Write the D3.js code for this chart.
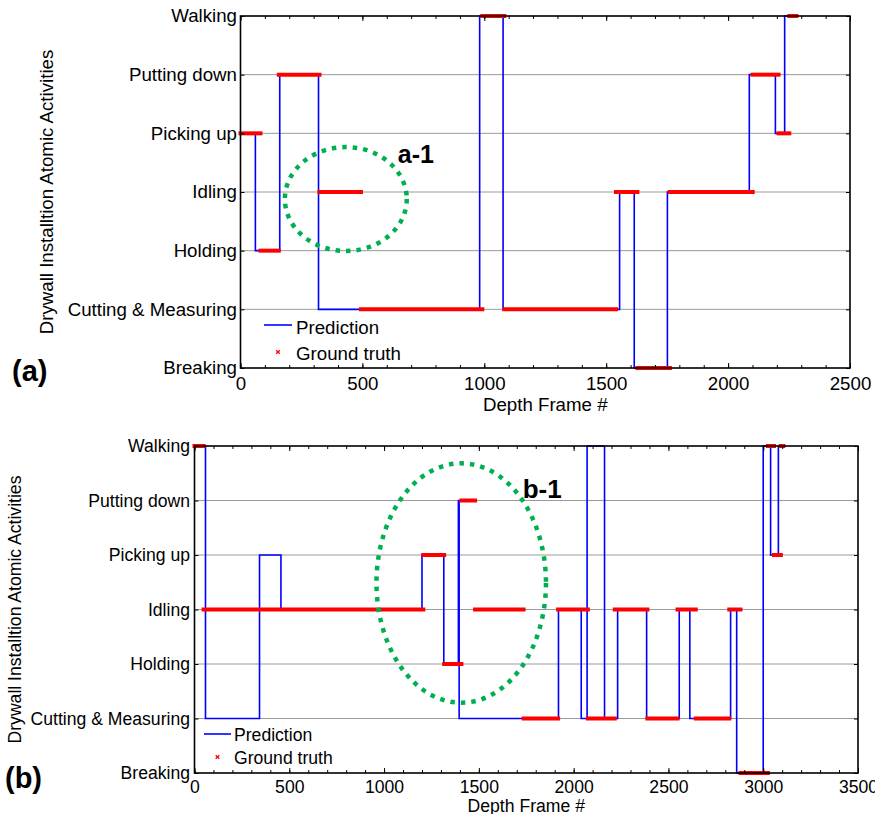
<!DOCTYPE html>
<html>
<head>
<meta charset="utf-8">
<script src="https://cdn.jsdelivr.net/npm/d3@7"></script>
<style>
  body { margin: 0; background: #fff; }
  svg text { font-family: "Liberation Sans", Arial, sans-serif; fill: #000; }
</style>
</head>
<body>
<svg id="chart" width="875" height="814"></svg>
<script>
// activity levels, bottom to top
var activities = ["Breaking", "Cutting & Measuring", "Holding", "Idling", "Picking up", "Putting down", "Walking"];

// (a) prediction: change frames (last one is the end) and the activity after each change
var predFramesA = [0, 61, 161, 320, 981, 1077, 1555, 1615, 1751, 2087, 2194, 2232, 2281];
var predActsA = ["Picking up", "Holding", "Putting down", "Cutting & Measuring", "Walking", "Cutting & Measuring",
                 "Idling", "Breaking", "Idling", "Putting down", "Picking up", "Walking"];
// (a) ground truth
var truthFramesA = [0, 82, 157, 324, 494, 992, 1082, 1540, 1628, 1761, 2101, 2207, 2251, 2280];
var truthActsA = ["Picking up", "Holding", "Putting down", "Idling", "Cutting & Measuring", "Walking",
                  "Cutting & Measuring", "Idling", "Breaking", "Idling", "Putting down", "Picking up", "Walking"];
var xTicksA = [0, 500, 1000, 1500, 2000, 2500];

// (b) prediction
var predFramesB = [0, 58, 343, 456, 1200, 1315, 1392, 1396, 1920, 2040, 2071, 2163, 2232, 2385, 2557, 2613,
                   2828, 2860, 3000, 3039, 3080, 3100];
var predActsB = ["Walking", "Cutting & Measuring", "Picking up", "Idling", "Picking up", "Holding", "Putting down",
                 "Cutting & Measuring", "Idling", "Cutting & Measuring", "Walking", "Cutting & Measuring", "Idling",
                 "Cutting & Measuring", "Idling", "Cutting & Measuring", "Idling", "Breaking", "Walking",
                 "Picking up", "Walking"];
// (b) ground truth
var truthFramesB = [0, 48, 1207, 1317, 1408, 1480, 1736, 1918, 2075, 2217, 2389, 2548, 2644, 2821, 2880, 3025,
                    3057, 3093, 3106];
var truthActsB = ["Walking", "Idling", "Picking up", "Holding", "Putting down", "Idling", "Cutting & Measuring",
                  "Idling", "Cutting & Measuring", "Idling", "Cutting & Measuring", "Idling", "Cutting & Measuring",
                  "Idling", "Breaking", "Walking", "Picking up", "Walking"];
var xTicksB = [0, 500, 1000, 1500, 2000, 2500, 3000, 3500];

// highlighted regions: [centre frame, centre level, radius frames, radius levels]
var regionA = [432, 2.88, 250, 0.886];
var regionB = [1407, 3.486, 447, 2.196];
var regionLabelA = { text: "a-1", frame: 645, level: 3.49 };
var regionLabelB = { text: "b-1", frame: 1731, level: 5.05 };

var svg = d3.select("#chart");

function drawPanel(p) {
    var g = svg.append("g");
    var xMax = p.xTicks[p.xTicks.length - 1];
    var x = d3.scaleLinear().domain([0, xMax]).range([p.left, p.right]);
    var y = d3.scaleLinear().domain([0, activities.length - 1]).range([p.bottom, p.top]);
    var lvl = function(a) { return activities.indexOf(a); };

    // grid lines
    g.selectAll(".grid").data(d3.range(1, activities.length - 1)).enter().append("line")
	.attr("x1", p.left).attr("x2", p.right)
	.attr("y1", function(d) { return y(d); }).attr("y2", function(d) { return y(d); })
	.attr("stroke", "#9a9a9a").attr("stroke-width", 1);

    // prediction step line
    var pts = p.predActs.map(function(a, i) { return [p.predFrames[i], lvl(a)]; });
    pts.push([p.predFrames[p.predFrames.length - 1], lvl(p.predActs[p.predActs.length - 1])]);
    var line = d3.line().x(function(d) { return x(d[0]); }).y(function(d) { return y(d[1]); }).curve(d3.curveStepAfter);
    g.append("path").attr("d", line(pts)).attr("fill", "none").attr("stroke", "#0000ff").attr("stroke-width", 1.6);

    // ground truth segments
    g.selectAll(".truth").data(p.truthActs).enter().append("line")
	.attr("x1", function(d, i) { return x(p.truthFrames[i]); })
	.attr("x2", function(d, i) { return x(p.truthFrames[i + 1]); })
	.attr("y1", function(d) { return y(lvl(d)); })
	.attr("y2", function(d) { return y(lvl(d)); })
	.attr("stroke", "#ff0000").attr("stroke-width", 4).attr("stroke-linecap", "square");

    // axes
    var fs = p.fontSize;
    var minor = d3.range(0, xMax + 1, 100);
    g.append("g").attr("transform", "translate(0," + p.bottom + ")")
	.call(d3.axisBottom(x).tickValues(minor).tickSizeInner(-3).tickSizeOuter(0).tickFormat(""));
    var xa = g.append("g").attr("transform", "translate(0," + p.bottom + ")")
	.call(d3.axisBottom(x).tickValues(p.xTicks).tickSizeInner(-5).tickSizeOuter(0).tickPadding(p.xPad).tickFormat(d3.format("d")));
    g.append("g").attr("transform", "translate(0," + p.top + ")")
	.call(d3.axisTop(x).tickValues(minor).tickSizeInner(-3).tickSizeOuter(0).tickFormat(""));
    g.append("g").attr("transform", "translate(0," + p.top + ")")
	.call(d3.axisTop(x).tickValues(p.xTicks).tickSizeInner(-5).tickSizeOuter(0).tickFormat(""));
    var ya = g.append("g").attr("transform", "translate(" + p.left + ",0)")
	.call(d3.axisLeft(y).tickValues(d3.range(activities.length)).tickSizeInner(-4).tickSizeOuter(0)
	      .tickPadding(p.yPad).tickFormat(function(i) { return activities[i]; }));
    g.append("g").attr("transform", "translate(" + p.right + ",0)")
	.call(d3.axisRight(y).tickValues(d3.range(activities.length)).tickSizeInner(-4).tickSizeOuter(0).tickFormat(""));
    g.selectAll(".domain").remove();
    g.selectAll(".tick line").attr("stroke", "#000").attr("stroke-width", 1);
    xa.selectAll("text").attr("font-size", fs).attr("fill", "#000").attr("font-family", null);
    ya.selectAll("text").attr("font-size", fs).attr("fill", "#000").attr("font-family", null);

    // axes box
    g.append("rect").attr("x", p.left).attr("y", p.top)
	.attr("width", p.right - p.left).attr("height", p.bottom - p.top)
	.attr("fill", "none").attr("stroke", "#000").attr("stroke-width", 1.6);

    // titles
    g.append("text").attr("x", (p.left + p.right) / 2).attr("y", p.xTitleY)
	.attr("text-anchor", "middle").attr("font-size", fs).text("Depth Frame #");
    g.append("text").attr("transform", "translate(" + p.yTitleX + "," + ((p.top + p.bottom) / 2) + ") rotate(-90)")
	.attr("text-anchor", "middle").attr("font-size", fs).text("Drywall Installtion Atomic Activities");
    g.append("text").attr("x", p.tag[0]).attr("y", p.tag[1]).attr("font-size", 29)
	.attr("font-weight", "bold").text(p.tagText);

    // highlighted region
    var r = p.region;
    g.append("ellipse").attr("cx", x(r[0])).attr("cy", y(r[1]))
	.attr("rx", x(r[2]) - x(0)).attr("ry", y(0) - y(r[3]))
	.attr("fill", "none").attr("stroke", "#00b050").attr("stroke-width", 4.5)
	.attr("stroke-dasharray", "4.5 6");
    g.append("text").attr("x", x(p.regionLabel.frame)).attr("y", y(p.regionLabel.level))
	.attr("font-size", p.labelSize).attr("font-weight", "bold").text(p.regionLabel.text);

    // legend
    var L = p.legend;
    g.append("line").attr("x1", L.x1).attr("x2", L.x2).attr("y1", L.y).attr("y2", L.y)
	.attr("stroke", "#0000ff").attr("stroke-width", 1.6);
    g.append("text").attr("x", L.tx).attr("y", L.b1).attr("font-size", fs).text("Prediction");
    var mx = (L.x1 + L.x2) / 2, my = L.my;
    g.append("path").attr("d", "M" + (mx - 1.8) + "," + (my - 1.8) + "L" + (mx + 1.8) + "," + (my + 1.8) +
			  "M" + (mx - 1.8) + "," + (my + 1.8) + "L" + (mx + 1.8) + "," + (my - 1.8))
	.attr("stroke", "#ff0000").attr("stroke-width", 1.3);
    g.append("text").attr("x", L.tx).attr("y", L.b2).attr("font-size", fs).text("Ground truth");
}

drawPanel({
    left: 240.5, right: 850, top: 16, bottom: 368,
    xTicks: xTicksA, fontSize: 18.7, xPad: 9, yPad: 3.5,
    predFrames: predFramesA, predActs: predActsA,
    truthFrames: truthFramesA, truthActs: truthActsA,
    xTitleY: 410.5, yTitleX: 53, tag: [12, 381], tagText: "(a)",
    region: regionA, regionLabel: regionLabelA, labelSize: 25,
    legend: { x1: 264, x2: 292, y: 325, tx: 296, b1: 334, my: 352, b2: 359.5 }
});

drawPanel({
    left: 194.5, right: 858, top: 446, bottom: 773,
    xTicks: xTicksB, fontSize: 17.6, xPad: 8, yPad: 4.5,
    predFrames: predFramesB, predActs: predActsB,
    truthFrames: truthFramesB, truthActs: truthActsB,
    xTitleY: 811.5, yTitleX: 20.5, tag: [5, 788], tagText: "(b)",
    region: regionB, regionLabel: regionLabelB, labelSize: 26,
    legend: { x1: 204, x2: 231, y: 734, tx: 234, b1: 741, my: 757, b2: 764 }
});
</script>
</body>
</html>
